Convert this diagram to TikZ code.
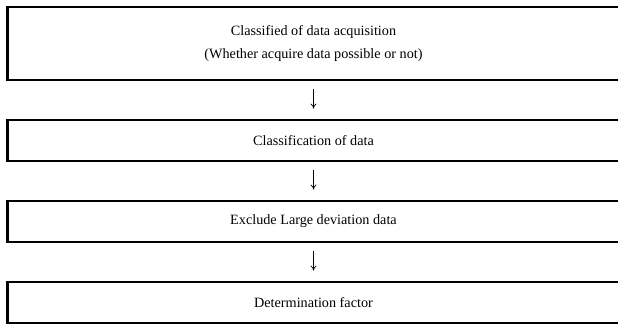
\documentclass[tikz,border=0pt]{standalone}
\usepackage{fontspec}
\setmainfont{Liberation Serif}
\usetikzlibrary{arrows.meta,positioning}
\tikzset{stagebox/.style={draw,line width=2.8pt,minimum width=612pt,inner sep=0pt,align=center}}
\begin{document}
\begin{tikzpicture}[x=1pt,y=-1pt,>={To[length=5pt,width=6pt]},font=\fontsize{14.2}{23}\selectfont]
 \clip (0,0) rectangle (618,328);
 \node[stagebox,minimum height=73pt] (acq) at(313.5,43.5){Classified of data acquisition\\(Whether acquire data possible or not)};
 \node[stagebox,minimum height=41pt] (cls) at(313.5,140.5){Classification of data};
 \node[stagebox,minimum height=41pt] (exc) at(313.5,221.5){Exclude Large deviation data};
 \node[stagebox,minimum height=41pt] (det) at(313.5,302.5){Determination factor};
 \draw[->,line width=0.6pt,shorten <=7.5pt,shorten >=10pt] (acq)--(cls);
 \draw[->,line width=0.6pt,shorten <=7.5pt,shorten >=10pt] (cls)--(exc);
 \draw[->,line width=0.6pt,shorten <=7.5pt,shorten >=10pt] (exc)--(det);
\end{tikzpicture}
\end{document}
